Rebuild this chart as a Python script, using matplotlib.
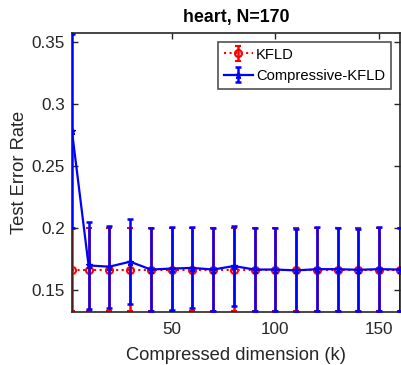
import matplotlib
matplotlib.use("Agg")
import matplotlib.pyplot as plt
import numpy as np

k = [2, 10, 20, 30, 40, 50, 60, 70, 80, 90, 100, 110, 120, 130, 140, 150, 160]
kfld_mean = [0.1667] * 17
kfld_err = [0.0333] * 17
ckfld_mean = [0.278, 0.170, 0.169, 0.173, 0.1667, 0.1675, 0.168, 0.1667, 0.1695, 0.1667,
              0.1667, 0.166, 0.167, 0.167, 0.1665, 0.167, 0.1667]
ckfld_err = [0.078, 0.035, 0.033, 0.034, 0.0333, 0.0330, 0.0325, 0.0333, 0.0325, 0.0333,
             0.0333, 0.0333, 0.0335, 0.0333, 0.033, 0.0335, 0.0333]

plt.rcParams['font.family'] = ['Liberation Sans', 'DejaVu Sans']
fig = plt.figure(figsize=(4.02, 3.65), dpi=100)
ax = fig.add_axes([0.179, 0.145, 0.816, 0.765])

ax.errorbar(k, kfld_mean, yerr=kfld_err, color='red', ls=':', lw=1.5, marker='o',
            mfc='none', mec='red', ms=5, mew=1.5, capsize=2.5, elinewidth=1.8, capthick=1.8,
            label='KFLD', zorder=2)
ax.errorbar(k, ckfld_mean, yerr=ckfld_err, color='blue', ls='-', lw=1.6, marker='*',
            ms=4.5, capsize=2.5, elinewidth=1.8, capthick=1.8,
            label='Compressive-KFLD', zorder=3)

ax.set_xlim(2, 160)
ax.set_ylim(0.1325, 0.357)
ax.set_xticks([50, 100, 150])
ax.set_yticks([0.15, 0.2, 0.25, 0.3, 0.35])
ax.set_yticklabels(['0.15', '0.2', '0.25', '0.3', '0.35'])
ax.tick_params(direction='in', top=True, right=True, length=4, width=1,
               labelsize=12.3, colors='#262626', labelcolor='#262626')
ax.tick_params(axis='x', pad=7)
ax.tick_params(axis='y', pad=5)
for s in ax.spines.values():
    s.set_color('#262626')
    s.set_linewidth(1.2)

ax.set_xlabel('Compressed dimension (k)', fontsize=13.2, color='#262626', labelpad=7)
ax.set_ylabel('Test Error Rate', fontsize=13.2, color='#262626', labelpad=3)
ax.set_title('heart, N=170', fontsize=12.8, fontweight='bold', pad=8)

leg = ax.legend(loc='upper right', fontsize=10.6, frameon=True, fancybox=False,
                edgecolor='#262626', handlelength=2.0, borderpad=0.4, labelspacing=0.5,
                handletextpad=0.2, borderaxespad=0.6)
leg.get_frame().set_linewidth(1.2)

fig.savefig('out.png', dpi=100)
